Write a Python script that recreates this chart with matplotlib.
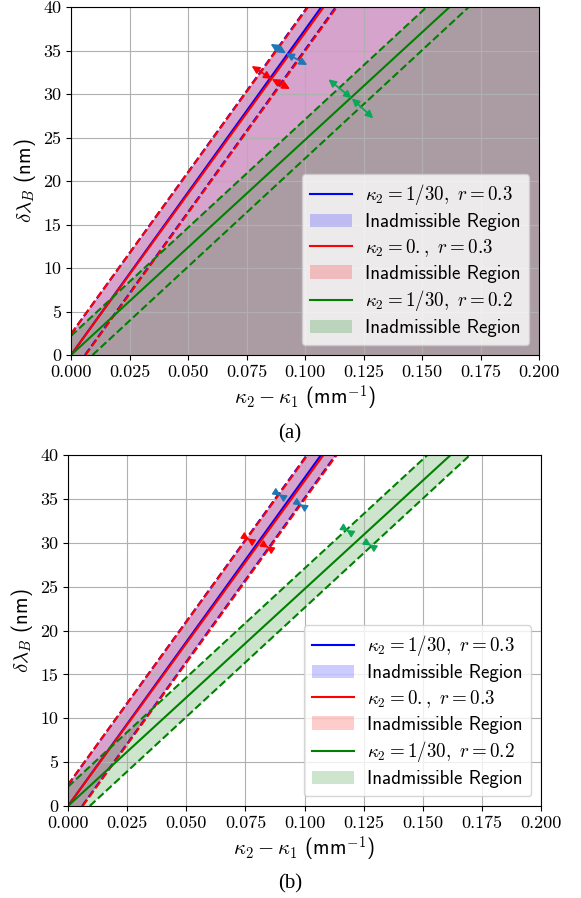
import matplotlib
matplotlib.use("Agg")
import matplotlib.pyplot as plt

plt.rcParams["mathtext.fontset"] = "cm"
plt.rcParams["axes.formatter.use_mathtext"] = True

# ---------------- data ----------------
xlim = [0.0, 0.2]
ylim = [0, 40]
xticks = [0.000, 0.025, 0.050, 0.075, 0.100, 0.125, 0.150, 0.175, 0.200]
yticks = [0, 5, 10, 15, 20, 25, 30, 35, 40]

labels = [r"$\kappa_2=1/30,\ r=0.3$", r"$\kappa_2=0.,\ r=0.3$", r"$\kappa_2=1/30,\ r=0.2$"]
colors = ["blue", "red", "green"]
arrow_colors = ["#1f77b4", "red", "#0aa858"]

# solid lines (x at y=0 and y=40)
solid_y = [0, 40]
blue_solid_x = [0.0, 0.1070]
red_solid_x = [0.0, 0.1080]
green_solid_x = [0.0, 0.1618]

# upper dashed bound: from left axis up to top
blue_upper_x = [0.0, 0.1010]
blue_upper_y = [2.40, 40]
red_upper_x = [0.0, 0.1013]
red_upper_y = [2.42, 40]
green_upper_x = [0.0, 0.1520]
green_upper_y = [2.20, 40]

# lower dashed bound: from bottom axis up to top
lower_y = [0, 40]
blue_lower_x = [0.0060, 0.1132]
red_lower_x = [0.0062, 0.1136]
green_lower_x = [0.0092, 0.1700]

# (a) arrows: start, middle, end
arrows_a = {
    "blue": [(0.0853, 35.75), (0.0919, 34.68), (0.1010, 33.33)],
    "red": [(0.0772, 33.22), (0.0858, 31.72), (0.0936, 30.57)],
    "green": [(0.1100, 31.69), (0.1200, 29.50), (0.1292, 27.20)],
}
# (b) short arrow marks on the dashed bounds: start, end
arrows_b = {
    "blue": [[(0.0891, 35.52), (0.0899, 35.38)], [(0.0980, 34.39), (0.0988, 34.25)]],
    "red": [[(0.0758, 30.49), (0.0766, 30.35)], [(0.0839, 29.58), (0.0847, 29.44)]],
    "green": [[(0.1177, 31.47), (0.1185, 31.33)], [(0.1273, 29.81), (0.1281, 29.67)]],
}

curves = [
    (blue_solid_x, blue_upper_x, blue_upper_y, blue_lower_x),
    (red_solid_x, red_upper_x, red_upper_y, red_lower_x),
    (green_solid_x, green_upper_x, green_upper_y, green_lower_x),
]

FS = 13
LFS = 13.7

fig = plt.figure(figsize=(5.81, 8.98), dpi=100)
ax_a = fig.add_axes([71 / 581, 1 - 355 / 898, 468 / 581, 348 / 898])
ax_b = fig.add_axes([68 / 581, 1 - 806 / 898, 473 / 581, 351 / 898])


def draw(ax, mode):
    for (sx, ux, uy, lx), c, lab in zip(curves, colors, labels):
        ax.plot(sx, solid_y, color=c, lw=1.5, label=lab)
        if mode == "a":
            ax.fill_betweenx([0, uy[0], uy[1]], [ux[0], ux[0], ux[1]], 0.3,
                             color=c, alpha=0.2, lw=0, label="Inadmissible Region")
        else:
            px = [0.0, ux[0], ux[1], lx[1], lx[0]]
            py = [0.0, uy[0], uy[1], lower_y[1], lower_y[0]]
            ax.fill(px, py, color=c, alpha=0.2, lw=0, label="Inadmissible Region")
        ax.plot(ux, uy, color=c, lw=1.5, ls="--")
        ax.plot(lx, lower_y, color=c, lw=1.5, ls="--")

    if mode == "a":
        for key, ac in zip(["blue", "red", "green"], arrow_colors):
            s, m, e = arrows_a[key]
            for p0, p1 in [(m, s), (m, e)]:
                ax.annotate("", xy=p1, xytext=p0,
                            arrowprops=dict(arrowstyle="<|-|>", color=ac, lw=1.3,
                                            shrinkA=0, shrinkB=0, mutation_scale=11))
    else:
        for key, ac in zip(["blue", "red", "green"], arrow_colors):
            for p0, p1 in arrows_b[key]:
                ax.annotate("", xy=p1, xytext=p0,
                            arrowprops=dict(arrowstyle="<|-|>", color=ac, lw=1.0,
                                            shrinkA=0, shrinkB=0, mutation_scale=11))

    ax.set_xlim(xlim)
    ax.set_ylim(ylim)
    ax.set_xticks(xticks)
    ax.set_yticks(yticks)
    ax.set_xticklabels([f"{v:.3f}" for v in xticks])
    ax.set_yticklabels([f"{v:d}" for v in yticks])
    ax.tick_params(labelsize=FS, labelfontfamily="cmr10")
    ax.grid(True, color="#b0b0b0", lw=0.8)
    ax.set_xlabel(r"$\kappa_2-\kappa_1$ (mm$^{-1}$)", fontsize=15, family="cmss10", labelpad=3)
    ax.set_ylabel(r"$\delta\lambda_B$ (nm)", fontsize=15, family="cmss10", labelpad=4)
    ax.legend(loc="lower right", prop=dict(family="cmss10", size=LFS),
              labelspacing=0.3, handlelength=2.2, borderpad=0.45, handletextpad=0.7)


draw(ax_a, "a")
draw(ax_b, "b")

fig.text(290 / 581, 1 - 434 / 898, "(a)", ha="center", va="center",
         fontsize=15, family="Liberation Serif")
fig.text(290 / 581, 1 - 884 / 898, "(b)", ha="center", va="center",
         fontsize=15, family="Liberation Serif")

fig.savefig("out.png", dpi=100)
